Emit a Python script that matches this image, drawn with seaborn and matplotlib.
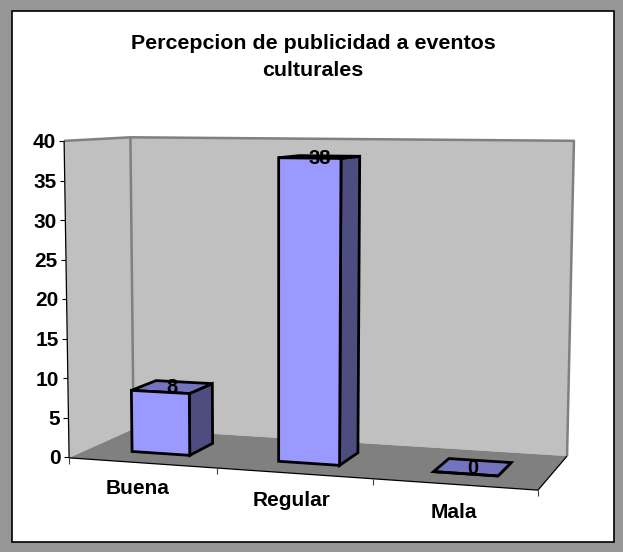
import numpy as np
import matplotlib
matplotlib.use("Agg")
import matplotlib.pyplot as plt
from matplotlib.patches import Polygon, Rectangle
from matplotlib.transforms import Transform, Affine2D
import seaborn as sns

categories = ["Buena", "Regular", "Mala"]
values = [8, 38, 0]
y_ticks = [0, 5, 10, 15, 20, 25, 30, 35, 40]
title = "Percepcion de publicidad a eventos\nculturales"

W, H = 623, 552
BAR_W, Z0, Z1 = 0.4, 0.3, 0.7

sns.set_theme(style="white")
plt.rcParams["font.family"] = ["Liberation Sans", "DejaVu Sans"]

# perspective camera: (category position, value, depth) -> pixel
calib = [(-.5, 0, 0, 69, 457), (-.5, 40, 0, 64.5, 141), (-.5, 40, 1, 130, 137),
         (-.5, 0, 1, 134, 430), (2.5, 40, 1, 574, 141), (2.5, 0, 1, 567, 455),
         (2.5, 0, 0, 538, 491), (.5, 0, 0, 216, 467.7), (1.5, 0, 0, 373, 479)]
A, b = [], []
for x, v, z, u, w in calib:
    v = v / 40
    A.append([x, v, z, 1, 0, 0, 0, 0, -u*x, -u*v, -u*z]); b.append(u)
    A.append([0, 0, 0, 0, x, v, z, 1, -w*x, -w*v, -w*z]); b.append(w)
cam = np.append(np.linalg.lstsq(np.array(A), np.array(b), rcond=None)[0], 1).reshape(3, 4)


def project(x, v, z):
    x, v, z = np.broadcast_arrays(np.asarray(x, float), np.asarray(v, float), np.asarray(z, float))
    p = cam @ np.array([x, v / 40, z, np.ones_like(x)])
    return p[0] / p[2], p[1] / p[2]


class Plane(Transform):
    """Data (category, value) on a plane of constant depth -> display pixels."""
    input_dims = output_dims = 2
    has_inverse = False

    def __init__(self, z):
        super().__init__()
        self.z = z

    def transform_non_affine(self, xy):
        xy = np.asarray(xy, float)
        u, w = project(xy[:, 0], xy[:, 1], self.z)
        return np.column_stack([u, H - w])


px = Affine2D().scale(1, -1).translate(0, H)

fig = plt.figure(figsize=(W / 100, H / 100), dpi=100, facecolor="#969696")
ax = fig.add_axes([69 / W, 1 - 457 / H, (538 - 69) / W, (457 - 141) / H])
ax.patch.set_alpha(0)
for s in ax.spines.values():
    s.set_visible(False)

fig.add_artist(Rectangle((12, 11), 602, 531, transform=px, fc="white", ec="black", lw=1.2, zorder=-5))


def poly(points, fc, ec="none", lw=0, z=1):
    u, w = project(*np.array(points, float).T)
    ax.add_patch(Polygon(np.column_stack([u, w]), closed=True, fc=fc, ec=ec, lw=lw,
                         transform=px, clip_on=False, zorder=z, joinstyle="miter"))


def line(points, color, lw, z=2):
    u, w = project(*np.array(points, float).T)
    ax.plot(u, w, color=color, lw=lw, transform=px, clip_on=False, zorder=z, solid_capstyle="butt")


GR = "#808080"
sns.barplot(x=categories, y=values, color="#9999FF", saturation=1, width=BAR_W,
            edgecolor="black", linewidth=2.0, ax=ax)
ax.set_xlim(-.5, 2.5)
ax.set_ylim(0, 40)
ax.set_xlabel("")
ax.set_ylabel("")

front = Plane(Z0)
for bar in list(ax.patches):
    bar.set_transform(front)
    bar.set_clip_on(False)
    bar.set_zorder(5)
    bar.set_joinstyle("miter")

poly([(-.5, 0, 0), (-.5, 40, 0), (-.5, 40, 1), (-.5, 0, 1)], "#C0C0C0")
poly([(-.5, 0, 1), (-.5, 40, 1), (2.5, 40, 1), (2.5, 0, 1)], "#C0C0C0")
poly([(-.5, 0, 0), (-.5, 0, 1), (2.5, 0, 1), (2.5, 0, 0)], GR)
line([(-.5, 40, 0), (-.5, 40, 1), (2.5, 40, 1), (2.5, 0, 1)], GR, 1.8)
line([(-.5, 40, 1), (-.5, 0, 1)], GR, 1.8)
line([(-.5, 40, 0), (-.5, 0, 0), (2.5, 0, 0), (2.5, 0, 1)], "black", 0.9, z=2.5)

for i, val in enumerate(values):
    l, r = i - BAR_W / 2, i + BAR_W / 2
    poly([(r, 0, Z0), (r, val, Z0), (r, val, Z1), (r, 0, Z1)], "#4D4D80", "black", 2.0, 4)
    poly([(l, val, Z0), (l, val, Z1), (r, val, Z1), (r, val, Z0)], "#7373BF", "black", 2.0, 4)
    u, w = project(i, val, .5)
    ax.text(float(u), float(w) + 1, str(val), transform=px, ha="center", va="center",
            fontsize=14.5, fontweight="bold", color="black", zorder=7, clip_on=False)

# y axis: real ticks, nudged onto the slanted edge
ax.set_yticks(y_ticks)
ax.tick_params(axis="y", which="major", left=True, length=3.6, width=0.8, color="black",
               pad=2.5, labelsize=15)
for v, t in zip(y_ticks, ax.yaxis.get_major_ticks()):
    dx = float(project(-.5, v, 0)[0]) - 69
    shift = Affine2D().translate(dx, 0)
    t.label1.set_fontweight("bold")
    t.label1.set_color("black")
    t.label1.set_transform(t.label1.get_transform() + shift)
    t.tick1line.set_transform(t.tick1line.get_transform() + shift)

# x axis: category labels and separators along the slanted front edge
label_px = [(138, 489), (292, 501), (454, 512)]
ax.set_xticks(range(3), categories)
ax.tick_params(axis="x", which="major", bottom=False, length=0, pad=0, labelsize=15)
for i, (t, (u, w)) in enumerate(zip(ax.xaxis.get_major_ticks(), label_px)):
    sx = 69 + (i + .5) * (538 - 69) / 3
    t.label1.set_fontweight("bold")
    t.label1.set_color("black")
    t.label1.set_verticalalignment("center")
    t.label1.set_transform(t.label1.get_transform() + Affine2D().translate(u - sx, -(w - 457)))

seps = [-.5, .5, 1.5, 2.5]
ax.set_xticks(seps, minor=True)
ax.tick_params(axis="x", which="minor", bottom=True, length=4.5, width=0.8, color="#404040")
for x, t in zip(seps, ax.xaxis.get_minor_ticks()):
    sx = 69 + (x + .5) * (538 - 69) / 3
    u, w = project(x, 0, 0)
    t.tick1line.set_transform(t.tick1line.get_transform()
                              + Affine2D().translate(float(u) - sx, -(float(w) - 457)))

ax.set_title(title, fontsize=15.4, fontweight="bold", color="black",
             x=(313 - 69) / (538 - 69), y=(457 - 76) / (457 - 141), linespacing=1.52, pad=0)

fig.savefig("out.png", dpi=100, facecolor=fig.get_facecolor())
